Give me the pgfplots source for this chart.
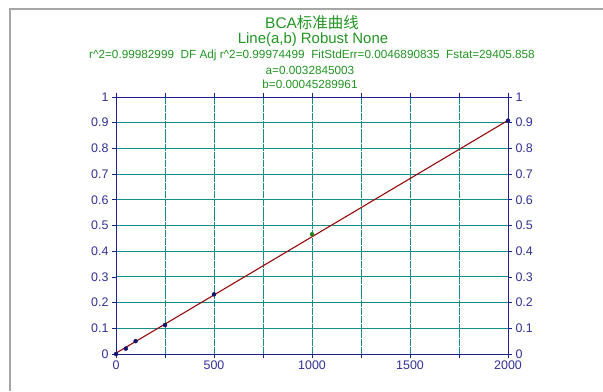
\documentclass[border=0pt]{standalone}
\usepackage{fontspec}
\setmainfont{Liberation Sans}
\newfontfamily\cjk{Noto Sans CJK SC}
\usepackage{pgfplots}
\pgfplotsset{compat=1.18}
\definecolor{ttl}{RGB}{34,150,34}
\definecolor{axc}{RGB}{30,30,140}
\definecolor{lbl}{RGB}{50,50,150}
\definecolor{grd}{RGB}{20,140,140}
\definecolor{fit}{RGB}{150,10,10}
\definecolor{pts}{RGB}{20,20,110}
\begin{document}
\begin{tikzpicture}[x=1bp,y=1bp]
\useasboundingbox[fill=white] (0,0) rectangle (603,391);
\draw[gray!70,line width=1.5bp] (10,0) -- (10,382) -- (603,382);
\node[ttl,font=\fontsize{15.5}{17}\selectfont] at (312,368) {BCA{\cjk 标准曲线}};
\node[ttl,font=\fontsize{15}{17}\selectfont] at (313,351) {Line(a,b) Robust None};
\node[ttl,font=\fontsize{11.8}{13}\selectfont] at (312,336) {r\^{}2=0.99982999\ \ DF Adj r\^{}2=0.99974499\ \ FitStdErr=0.0046890835\ \ Fstat=29405.858};
\node[ttl,font=\fontsize{11.8}{13}\selectfont] at (310,321) {a=0.0032845003};
\node[ttl,font=\fontsize{11.8}{13}\selectfont] at (310,307) {b=0.00045289961};
\pgfplotsset{
  myax/.style={
    at={(116bp,37bp)}, anchor=south west,
    width=392bp, height=257bp, scale only axis,
    xmin=0, xmax=2000, ymin=0, ymax=1,
    axis line style={axc, line width=0.9bp},
    tick style={axc, line width=0.8bp},
    major tick length=4bp, minor tick length=4bp,
    tick align=outside,
    ticklabel style={lbl, font=\fontsize{12.5}{14}\selectfont},
    /pgf/number format/assume math mode=true,
    /pgf/number format/fixed,
    /pgf/number format/1000 sep={},
    ytick={0,0.1,...,1.01},
    yticklabel style={/pgf/number format/precision=1},
  }
}
\begin{axis}[myax,
  axis y line*=left, axis x line*=box,
  xtick={0,500,1000,1500,2000},
  minor xtick={250,750,1250,1750},
  xticklabel style={yshift=1bp},
  grid=both,
  major grid style={grd, line width=0.9bp},
  minor grid style={grd, line width=0.9bp},
  xmajorgrids=true, xminorgrids=true, ymajorgrids=true,
  x grid style={dash pattern=on 7bp off 0.8bp},
  clip=false,
]
\addplot[fit, line width=1.1bp, no marks] coordinates {(0,0.0032845) (2000,0.90908)};
\addplot[only marks, mark=*, mark size=2bp, pts] coordinates {
(0,0) (50,0.021) (100,0.05) (250,0.113) (500,0.232) (2000,0.908)};
\addplot[only marks, mark=*, mark size=2bp, color=ttl!90!black] coordinates {(1000,0.466)};
\end{axis}
\begin{axis}[myax,
  axis y line*=right, axis x line=none,
]
\end{axis}
\end{tikzpicture}
\end{document}
